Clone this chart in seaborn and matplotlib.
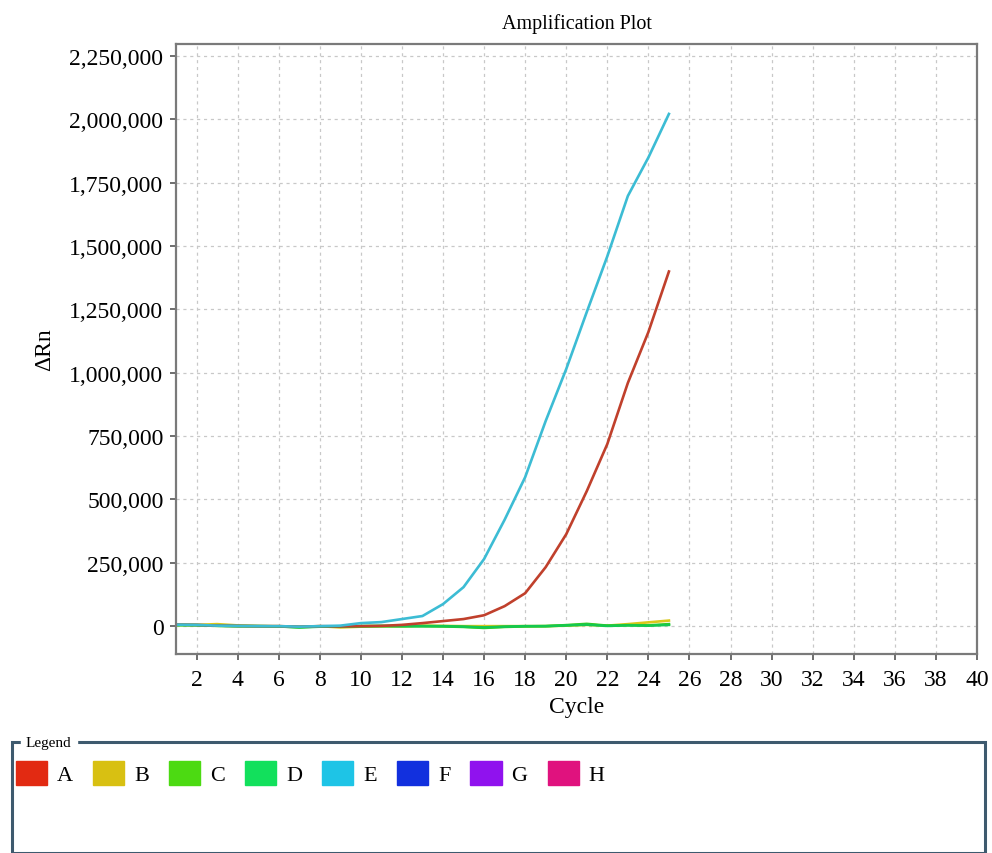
import numpy as np
import pandas as pd
import matplotlib
matplotlib.use("Agg")
import matplotlib.pyplot as plt
from matplotlib.patches import Patch, Rectangle
from matplotlib.ticker import FuncFormatter, MultipleLocator
import seaborn as sns

cycles = list(range(1, 26))
series_A = [6000, 5000, 2000, 1000, 0, 0, -2000, 0, -1000, 0, 1000, 5000, 12000, 20000, 28000,
            43000, 79000, 130000, 233000, 363000, 533000, 719000, 960000, 1161000, 1400000]
series_B = [5000, 5000, 8000, 3000, 0, 0, -3000, 0, -5000, -2000, 0, 0, 2000, 1000, 0,
            0, 0, 0, 0, 2000, 5000, 2000, 8000, 15000, 22000]
series_C = [4000, 4000, 1000, 0, 0, -1000, -4000, -1000, -2000, 0, 0, 0, 0, -1000, -3000,
            -7000, -3000, -1000, 0, 4000, 9000, 2000, 4000, 3000, 8000]
series_D = [5000, 4000, 2000, 0, 0, -1000, -5000, -2000, -1000, 0, 1000, 0, 0, 0, -2000,
            -5000, -2000, 0, 0, 3000, 6000, 1000, 3000, 2000, 5000]
series_E = [6000, 5000, 2000, 1000, 0, 0, -2000, 0, 2000, 12000, 16000, 28000, 40000, 87000, 154000,
            265000, 420000, 588000, 810000, 1015000, 1240000, 1460000, 1698000, 1850000, 2022000]
wells = ["A", "B", "C", "D", "E", "F", "G", "H"]
line_colors = {"A": "#c0402c", "B": "#d8c81a", "C": "#3ccc14", "D": "#14c850", "E": "#3cbcd4"}
swatch_colors = ["#e22a12", "#d8c012", "#4cda12", "#12e05c", "#1ec4e6", "#1230de", "#9012ee", "#e0127e"]

df = pd.concat([
    pd.DataFrame({"Cycle": cycles, "dRn": vals, "Well": w})
    for w, vals in [("B", series_B), ("C", series_C), ("D", series_D), ("A", series_A), ("E", series_E)]
])

plt.rcParams["font.family"] = ["Liberation Serif", "DejaVu Serif"]
fig = plt.figure(figsize=(9.92, 8.54), dpi=100)
ax = fig.add_axes([0.1774, 0.233, 0.8075, 0.714])

sns.lineplot(data=df, x="Cycle", y="dRn", hue="Well", palette=line_colors,
             linewidth=1.9, legend=False, ax=ax, sort=True)

ax.set_xlim(1, 40)
ax.set_ylim(-110000, 2297000)
ax.set_xticks(list(range(2, 41, 2)))
ax.yaxis.set_major_locator(MultipleLocator(250000))
ax.yaxis.set_major_formatter(FuncFormatter(lambda v, p: f"{int(v):,}"))
ax.grid(True, color="#c8c8c8", linestyle=(0, (2.5, 3)), linewidth=0.9)
ax.set_axisbelow(True)
for s in ax.spines.values():
    s.set_color("#7a7a7a")
    s.set_linewidth(1.6)
ax.tick_params(axis="both", direction="out", length=4, width=1.2, color="#555555",
               labelsize=17)
ax.tick_params(axis="x", pad=7)
ax.tick_params(axis="y", pad=5)
ax.set_xlabel("Cycle", fontsize=17, labelpad=4)
ax.set_ylabel("ΔRn", fontsize=17, labelpad=10)
ax.set_title("Amplification Plot", fontsize=14.5, pad=12)

# Legend box
box = Rectangle((12 / 992, 0), 973 / 992, (854 - 743) / 854, transform=fig.transFigure,
                fill=False, edgecolor="#3e5a6e", linewidth=2.2, clip_on=False)
fig.add_artist(box)
fig.text(26 / 992, 1 - 744 / 854, "Legend", fontsize=11, va="center", ha="left",
         backgroundcolor="white")
handles = [Patch(facecolor=c, edgecolor=c) for c in swatch_colors]
fig.legend(handles, wells, loc="upper left", bbox_to_anchor=(7 / 992, 1 - 753 / 854),
           ncol=8, frameon=False, fontsize=16, handlelength=1.4, handleheight=1.3,
           handletextpad=0.45, columnspacing=0.9, borderaxespad=0)

fig.savefig("out.png", dpi=100)
